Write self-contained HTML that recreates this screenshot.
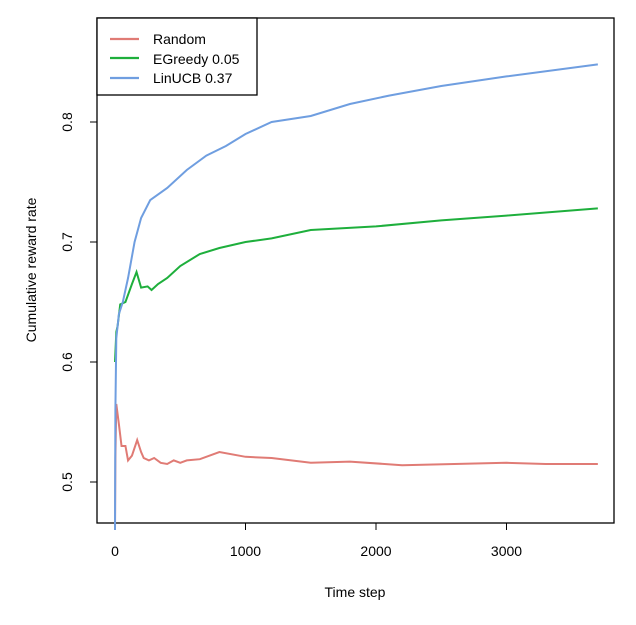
<!DOCTYPE html>
<html><head><meta charset="utf-8"><style>
body{margin:0;background:#fff}
svg text{font-family:"Liberation Sans",Arial,sans-serif;font-size:14px;fill:#000}
</style></head><body>
<svg width="636" height="620">
<rect x="97" y="18" width="517" height="505" fill="none" stroke="#000" stroke-width="1.3"/>
<g id="axes"></g>
<g id="series"></g>
<text x="355" y="597" text-anchor="middle">Time step</text>
<text transform="translate(36,270) rotate(-90)" text-anchor="middle">Cumulative reward rate</text>
<g>
<rect x="97" y="18" width="160" height="77" fill="#fff" stroke="#000" stroke-width="1.3"/>
<line x1="110" y1="39" x2="139" y2="39" stroke="#e07b75" stroke-width="2.2"/>
<text x="153" y="44">Random</text>
<line x1="110" y1="58" x2="139" y2="58" stroke="#1eaf3c" stroke-width="2.2"/>
<text x="153" y="64">EGreedy 0.05</text>
<line x1="110" y1="78" x2="139" y2="78" stroke="#6f9ee0" stroke-width="2.2"/>
<text x="153" y="83">LinUCB 0.37</text>
</g>
</svg>
<script>
const xTicks=[0,1000,2000,3000];
const yTicks=[0.5,0.6,0.7,0.8];
const randT=[0,3,10,30,50,80,100,130,170,200,220,260,300,350,400,450,500,550,650,800,1000,1200,1500,1800,2200,2600,3000,3300,3700];
const randV=[0.46,0.52,0.565,0.548,0.53,0.53,0.518,0.522,0.535,0.525,0.52,0.518,0.52,0.516,0.515,0.518,0.516,0.518,0.519,0.525,0.521,0.520,0.516,0.517,0.514,0.515,0.516,0.515,0.515];
const egT=[0,10,20,40,80,130,165,200,250,280,330,400,500,650,800,1000,1200,1500,2000,2500,3000,3700];
const egV=[0.60,0.625,0.63,0.648,0.65,0.665,0.675,0.662,0.663,0.660,0.665,0.67,0.68,0.69,0.695,0.70,0.703,0.71,0.713,0.718,0.722,0.728];
const linT=[0,3,10,30,60,100,150,200,270,400,550,700,850,1000,1200,1500,1800,2100,2500,3000,3700];
const linV=[0.46,0.56,0.62,0.64,0.65,0.67,0.70,0.72,0.735,0.745,0.76,0.772,0.78,0.79,0.80,0.805,0.815,0.822,0.83,0.838,0.848];
const NS='http://www.w3.org/2000/svg';
const xs=t=>115+t*0.1305;
const ys=v=>482-(v-0.5)*1200;
const axes=document.getElementById('axes');
xTicks.forEach(t=>{
 const l=document.createElementNS(NS,'line');
 l.setAttribute('x1',xs(t));l.setAttribute('x2',xs(t));l.setAttribute('y1',523);l.setAttribute('y2',530);l.setAttribute('stroke','#000');
 
 
 axes.appendChild(l);
 const tx=document.createElementNS(NS,'text');
 tx.setAttribute('x',xs(t));tx.setAttribute('y',556);tx.setAttribute('text-anchor','middle');tx.textContent=t;
 
 
 axes.appendChild(tx);
});
yTicks.forEach(v=>{
 const l=document.createElementNS(NS,'line');
 l.setAttribute('x1',90);l.setAttribute('x2',97);l.setAttribute('y1',ys(v));l.setAttribute('y2',ys(v));l.setAttribute('stroke','#000');
 
 
 axes.appendChild(l);
 const tx=document.createElementNS(NS,'text');
 tx.setAttribute('transform','translate(72,'+ys(v)+') rotate(-90)');tx.setAttribute('text-anchor','middle');tx.textContent=v.toFixed(1);
 
 
 axes.appendChild(tx);
});
const g=document.getElementById('series');
function line(T,V,c,name){
 const p=document.createElementNS(NS,'polyline');
 p.setAttribute('points',T.map((t,i)=>xs(t)+','+ys(V[i])).join(' '));
 p.setAttribute('fill','none');p.setAttribute('stroke',c);p.setAttribute('stroke-width','2');
 
 
 g.appendChild(p);
}
line(randT,randV,'#e07b75','series-random');
line(egT,egV,'#1eaf3c','series-egreedy');
line(linT,linV,'#6f9ee0','series-linucb');
</script>
</body></html>
